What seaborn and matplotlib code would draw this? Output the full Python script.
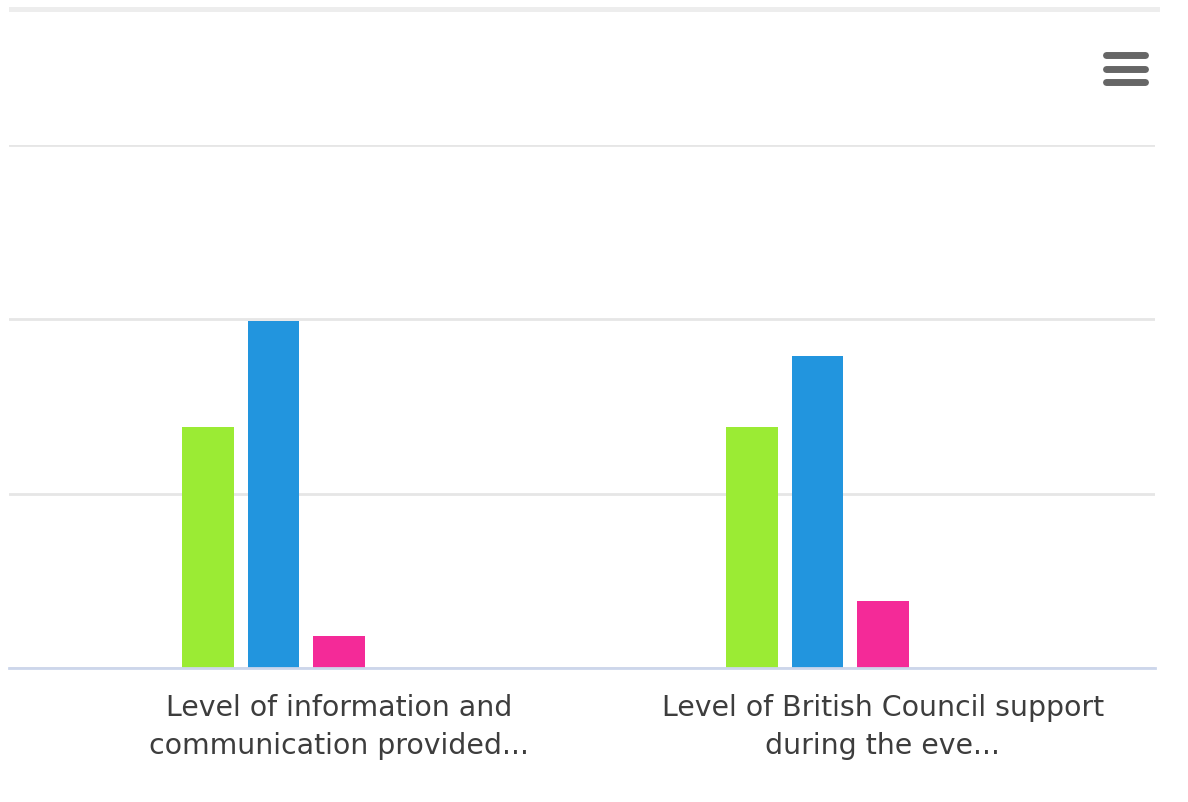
import matplotlib.pyplot as plt
import matplotlib.lines as mlines
import pandas as pd
import seaborn as sns

# categories (x axis) and the five rating series
categories = ['Level of information and\ncommunication provided...',
              'Level of British Council support\nduring the eve...']
series = ['Excellent', 'Good', 'Average', 'Poor', 'Very poor']
excellent = [13.8, 13.8]
good = [19.9, 17.9]
average = [1.85, 3.85]
poor = [0, 0]
very_poor = [0, 0]
colors = ['#9beb34', '#2295de', '#f42a98', '#8085e9', '#f7a35c']

df = pd.DataFrame({
    'Category': categories * 5,
    'Rating': [s for s in series for _ in categories],
    'Value': excellent + good + average + poor + very_poor,
})

sns.set_theme(style='white')
plt.rcParams['font.family'] = ['DejaVu Sans']
plt.rcParams['font.sans-serif'] = ['DejaVu Sans']

W, H = 1188, 802
fig = plt.figure(figsize=(W / 100, H / 100), dpi=100)
# plot area in pixels: left 9, right 1155, top 145, bottom 668
ax = fig.add_axes([9 / W, 1 - 668 / H, (1155 - 9) / W, (668 - 145) / H])

sns.barplot(data=df, x='Category', y='Value', hue='Rating', hue_order=series,
            palette=colors, saturation=1, width=0.602, gap=0.22, linewidth=0,
            legend=False, ax=ax)

ax.set_xlim(1.5 - 1146 / 544, 1.5)
ax.set_ylim(0, 30)
ax.set_yticks([0, 10, 20, 30])
ax.set_yticklabels([])
ax.grid(axis='y', color='#e6e6e6', linewidth=2)
ax.set_axisbelow(True)
for side in ['top', 'right', 'left']:
    ax.spines[side].set_visible(False)
ax.spines['bottom'].set_color('#ccd6eb')
ax.spines['bottom'].set_linewidth(2)
ax.tick_params(axis='both', length=0)
ax.tick_params(axis='x', pad=18.5)
ax.set_xlabel('')
ax.set_ylabel('')
for lbl in ax.get_xticklabels():
    lbl.set_fontfamily('DejaVu Sans')
    lbl.set_fontsize(20.4)
    lbl.set_color('#3d3d3d')
    lbl.set_linespacing(1.46)
    lbl.set_multialignment('center')

# thin gray bar at the top of the page
fig.add_artist(plt.Rectangle((9 / W, 1 - 12 / H), (1160 - 9) / W, 5 / H,
                             transform=fig.transFigure, color='#ededed', lw=0))

# context menu icon
for y in [55, 69, 82]:
    fig.add_artist(mlines.Line2D([1106 / W, 1145 / W], [1 - y / H, 1 - y / H],
                                 transform=fig.transFigure, color='#666666',
                                 linewidth=5, solid_capstyle='round'))

fig.savefig('out.png', dpi=100)
